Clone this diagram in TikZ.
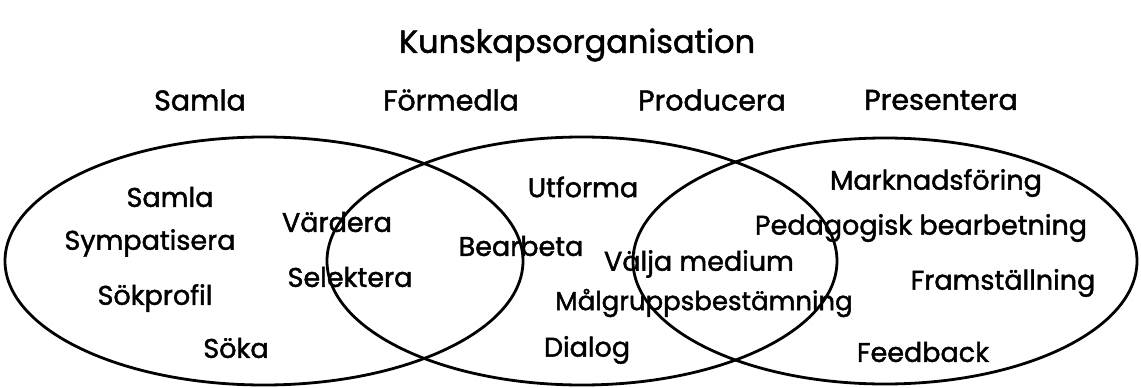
\documentclass[tikz,border=0pt]{standalone}
\usepackage{fontspec}
\setmainfont{Poppins}[FakeBold=1.6]
\begin{document}
\begin{tikzpicture}[x=1pt,y=-1pt,
  lbl/.style={font=\fontsize{27}{30}\selectfont, inner sep=0pt, anchor=center},
  hdr/.style={font=\fontsize{28.5}{31}\selectfont, inner sep=0pt, anchor=center},
  ttl/.style={font=\fontsize{32}{35}\selectfont, inner sep=0pt, anchor=center},
  ring/.style={draw=black, line width=2.8pt}]
\useasboundingbox (0,0) rectangle (1141,388);
\draw[ring] (264,261) ellipse [x radius=259, y radius=124];
\draw[ring] (582,261) ellipse [x radius=255, y radius=124];
\draw[ring] (885,261) ellipse [x radius=252, y radius=123];
\node[ttl] (title) at (577,45) {Kunskapsorganisation};
\node[hdr] (h1) at (200,100) {Samla};
\node[hdr] (h2) at (451,100) {Förmedla};
\node[hdr] (h3) at (712,100) {Producera};
\node[hdr] (h4) at (941,100) {Presentera};
\node[lbl] (a1) at (170,197) {Samla};
\node[lbl] (a2) at (150,243) {Sympatisera};
\node[lbl] (a3) at (155,298) {Sökprofil};
\node[lbl] (a4) at (236,348) {Söka};
\node[lbl] (b1) at (337,222) {Värdera};
\node[lbl] (b2) at (350,277) {Selektera};
\node[lbl] (c1) at (521,246) {Bearbeta};
\node[lbl] (c2) at (583,187) {Utforma};
\node[lbl] (c3) at (699,264) {Välja medium};
\node[lbl, font=\fontsize{26}{29}\selectfont] (c4) at (704,303) {Målgruppsbestämning};
\node[lbl] (c5) at (587,350) {Dialog};
\node[lbl] (d1) at (936,183) {Marknadsföring};
\node[lbl] (d2) at (921,228) {Pedagogisk bearbetning};
\node[lbl] (d3) at (1003,283) {Framställning};
\node[lbl] (d4) at (923,352) {Feedback};
\end{tikzpicture}
\end{document}
